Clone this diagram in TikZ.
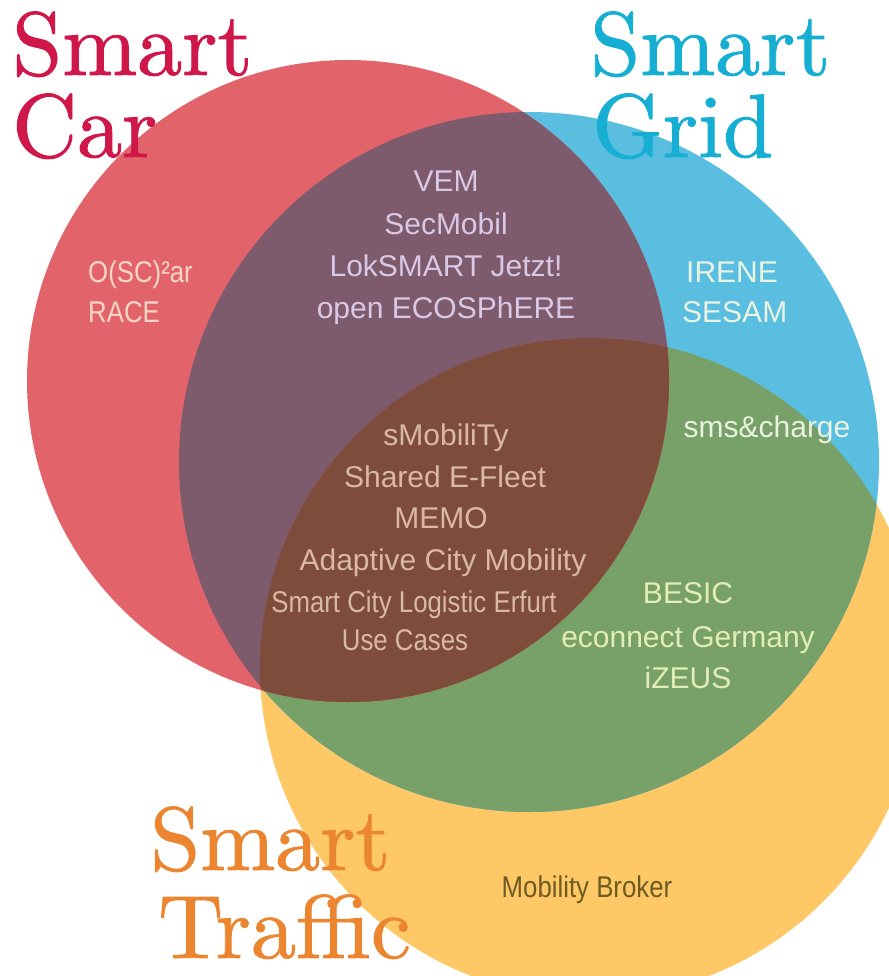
\documentclass[tikz,border=0pt]{standalone}
\usepackage{fontspec}
\newfontfamily\labelfont{Liberation Sans}
\newfontfamily\condfont[FakeStretch=0.86]{Liberation Sans}
\newfontfamily\titlefont[FakeBold=1]{lmroman10-regular.otf}

\definecolor{carfill}{HTML}{E2646A}
\definecolor{gridfill}{HTML}{5ABEE0}
\definecolor{trafficfill}{HTML}{FDC865}
\definecolor{cargrid}{HTML}{7D5A6C}
\definecolor{gridtraffic}{HTML}{77A169}
\definecolor{cartraffic}{HTML}{B5573F}
\definecolor{allthree}{HTML}{7D4C3B}
\definecolor{cartitle}{HTML}{D0174A}
\definecolor{gridtitle}{HTML}{17AED3}
\definecolor{traffictitle}{HTML}{EC8530}
\definecolor{cartxt}{HTML}{F9D5C8}
\definecolor{cargridtxt}{HTML}{D9C8E6}
\definecolor{gridtxt}{HTML}{EAF2E0}
\definecolor{alltxt}{HTML}{D9B9A3}
\definecolor{greentxt}{HTML}{E4EDB8}
\definecolor{brokertxt}{HTML}{6E5B22}

\begin{document}
\begin{tikzpicture}[x=1pt,y=1pt,yscale=-1,
  lbl/.style={anchor=base, inner sep=0pt, font=\labelfont\fontsize{30}{36}\selectfont},
  cond/.style={lbl, font=\condfont\fontsize{30}{36}\selectfont},
  title/.style={anchor=base west, inner sep=0pt, font=\titlefont\fontsize{90}{90}\selectfont}]

\useasboundingbox (0,0) rectangle (888,976);

% Circle centres
\coordinate (car) at (348,381);
\coordinate (grid) at (529,462);
\coordinate (traffic) at (590,668);

% Circles
\fill [trafficfill] (traffic) circle (330);
\fill [gridfill] (grid) circle (350);
\begin{scope}
  \clip (grid) circle (350);
  \fill [gridtraffic] (traffic) circle (330);
\end{scope}
\fill [carfill] (car) circle (321);

% Overlaps inside the car circle
\begin{scope}
  \clip (car) circle (321);
  \fill [cargrid] (grid) circle (350);
  \fill [cartraffic] (traffic) circle (330);
  \clip (grid) circle (350);
  \fill [allthree] (traffic) circle (330);
\end{scope}

% Titles
\draw (12,75) node [title, text=cartitle] (cartop) {Smart};
\draw (12,157) node [title, text=cartitle] (carbot) {Car};
\draw (590,75) node [title, text=gridtitle] (gridtop) {Smart};
\draw (592,157) node [title, text=gridtitle] (gridbot) {Grid};
\draw (150,870) node [title, text=traffictitle] (traffictop) {Smart};
\draw (158,958) node [title, text=traffictitle] (trafficbot) {Traffic};

% Car only
\draw (88,282) node [cond, anchor=base west, text=cartxt] (oscar) {O(SC)²ar};
\draw (88,322) node [cond, anchor=base west, text=cartxt] (race) {RACE};

% Car and grid
\draw (446,192) node [lbl, text=cargridtxt] (vem) {VEM};
\draw (446,234) node [lbl, text=cargridtxt] (secmobil) {SecMobil};
\draw (446,276) node [lbl, text=cargridtxt] (loksmart) {LokSMART Jetzt!};
\draw (446,318) node [lbl, text=cargridtxt] (ecosphere) {open ECOSPhERE};

% Grid only
\draw (686,282) node [lbl, anchor=base west, text=gridtxt] (irene) {IRENE};
\draw (682,322) node [lbl, anchor=base west, text=gridtxt] (sesam) {SESAM};
\draw (767,437) node [lbl, text=gridtxt] (smscharge) {sms\&charge};

% All three
\draw (446,445) node [lbl, text=alltxt] (smobility) {sMobiliTy};
\draw (445,487) node [lbl, text=alltxt] (efleet) {Shared E-Fleet};
\draw (441,528) node [lbl, text=alltxt] (memo) {MEMO};
\draw (443,570) node [lbl, text=alltxt] (adaptive) {Adaptive City Mobility};
\draw (414,612) node [cond, text=alltxt] (erfurt) {Smart City Logistic Erfurt};
\draw (405,650) node [cond, text=alltxt] (usecases) {Use Cases};

% Grid and traffic
\draw (688,603) node [lbl, text=greentxt] (besic) {BESIC};
\draw (688,647) node [lbl, text=greentxt] (econnect) {econnect Germany};
\draw (688,688) node [lbl, text=greentxt] (izeus) {iZEUS};

% Traffic only
\draw (587,897) node [cond, text=brokertxt] (broker) {Mobility Broker};

\end{tikzpicture}
\end{document}
